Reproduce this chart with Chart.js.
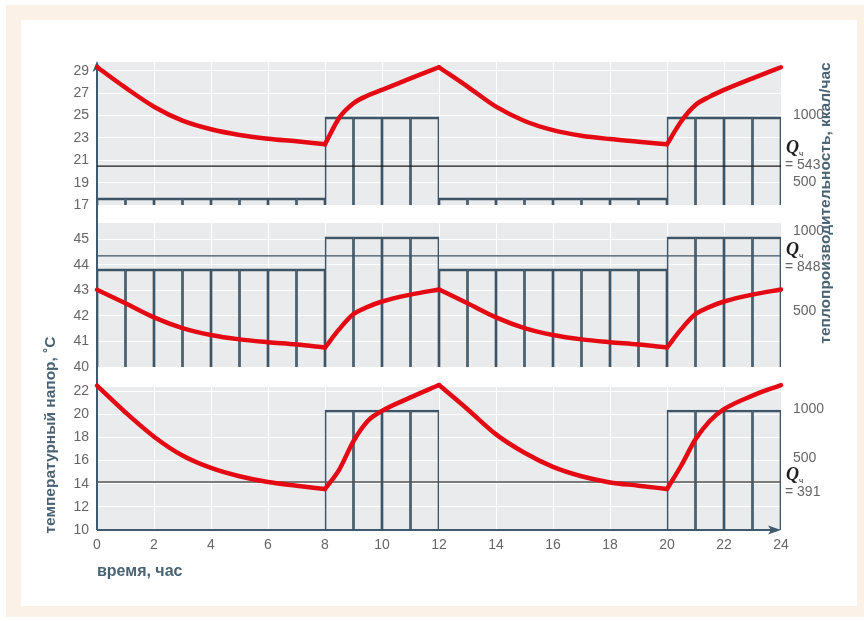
<!DOCTYPE html>
<html>
<head>
<meta charset="utf-8">
<script src="https://cdn.jsdelivr.net/npm/chart.js@4.4.1/dist/chart.umd.min.js"></script>
<style>
  html, body { margin: 0; padding: 0; background: #fff; }
  #frame { position: relative; width: 864px; height: 621px; overflow: hidden; }
  .beige { position: absolute; left: 6px; top: 5px; width: 858px; height: 612px; background: #fcf1e6; }
  .paper { position: absolute; left: 21px; top: 20px; width: 836px; height: 586px; background: #fff; }
  canvas { position: absolute; left: 21px; }
  .title { position: absolute; height: 20px; line-height: 20px; text-align: center; white-space: nowrap;
           font: bold 15.5px "Liberation Sans", Arial, sans-serif; color: #4a6373; transform: rotate(-90deg); }
</style>
</head>
<body>
<div id="frame">
  <div class="beige"></div>
  <div class="paper"></div>
  <canvas id="top" width="836" height="191" style="top:38px"></canvas>
  <canvas id="mid" width="836" height="192" style="top:199px"></canvas>
  <canvas id="bot" width="836" height="243" style="top:363px"></canvas>
  <div class="title" style="left:-59px; top:425px; width:220px;">температурный напор, ˚С</div>
  <div class="title" style="left:671px; top:193px; width:310px;">теплопроизводительность, ккал/час</div>
</div>
<script>
// hours at which the temperature curves were read
const hours = [0, 1, 2, 3, 4, 5, 6, 7, 8, 8.5, 9, 9.5, 10, 11, 12, 13, 14, 15, 16, 17, 18, 19, 20, 20.5, 21, 21.5, 22, 23, 24];
const corners = [0, 8, 12, 20, 24];

// temperature head, °C
const tempTop = [29.35, 27.5, 25.8, 24.55, 23.78, 23.27, 22.94, 22.7, 22.43, 24.8, 26.1, 26.8, 27.3, 28.34, 29.33,
                 27.6, 25.8, 24.52, 23.7, 23.2, 22.9, 22.67, 22.43, 24.5, 25.95, 26.7, 27.3, 28.34, 29.33];
const tempMid = [43.02, 42.49, 41.94, 41.52, 41.25, 41.08, 40.97, 40.88, 40.76, 41.48, 42.07, 42.35, 42.56, 42.83, 43.03,
                 42.49, 41.94, 41.52, 41.25, 41.08, 40.97, 40.88, 40.76, 41.48, 42.07, 42.35, 42.56, 42.83, 43.03];
const tempBot = [22.46, 20.15, 18.06, 16.43, 15.36, 14.64, 14.14, 13.83, 13.54, 15.22, 17.68, 19.42, 20.29, 21.45, 22.52,
                 20.43, 18.26, 16.67, 15.45, 14.64, 14.11, 13.83, 13.54, 15.57, 17.83, 19.42, 20.43, 21.6, 22.52];

// heat output per hour (0..23), kcal/h
const powerTop = [381, 381, 381, 381, 381, 381, 381, 381, 987, 987, 987, 987,
                  381, 381, 381, 381, 381, 381, 381, 381, 987, 987, 987, 987];
const powerMid = [767, 767, 767, 767, 767, 767, 767, 767, 967, 967, 967, 967,
                  767, 767, 767, 767, 767, 767, 767, 767, 967, 967, 967, 967];
const powerBot = [null, null, null, null, null, null, null, null, 993, 993, 993, 993,
                  null, null, null, null, null, null, null, null, 993, 993, 993, 993];

// average output line and its caption
const qLevels = [619, 848, 258];
const qTexts = ['543', '848', '391'];

// tick labels
const xTicks = [0, 2, 4, 6, 8, 10, 12, 14, 16, 18, 20, 22, 24];
const leftTicksTop = [17, 19, 21, 23, 25, 27, 29];
const leftTicksMid = [40, 41, 42, 43, 44, 45];
const leftTicksBot = [10, 12, 14, 16, 18, 20, 22];
const rightTicks = [500, 1000];

const RED = '#e50914';
const AXIS = '#3f5a6c';
const BAR = '#3d5566';
const TICK = '#666666';
const FONT = '"Liberation Sans", Arial, sans-serif';

const panelBg = {
  id: 'panelBg',
  beforeDraw(chart) {
    const { ctx, chartArea: a } = chart;
    ctx.save();
    ctx.fillStyle = '#eaebed';
    ctx.fillRect(a.left, a.top, a.right - a.left, a.bottom - a.top);
    ctx.restore();
  }
};

// the vertical axis runs through all three canvases, arrows on the first and last
const axisLines = {
  id: 'axisLines',
  beforeDatasetsDraw(chart, args, o) {
    const { ctx, chartArea: a, height } = chart;
    const x = a.left;
    ctx.save();
    ctx.strokeStyle = AXIS;
    ctx.fillStyle = AXIS;
    ctx.lineWidth = 2;
    const top = o.arrowUp ? a.top - 1 : 0;
    const bottom = o.arrowRight ? a.bottom : height;
    ctx.beginPath();
    ctx.moveTo(x, top + (o.arrowUp ? 6 : 0));
    ctx.lineTo(x, bottom);
    ctx.stroke();
    if (o.arrowUp) {
      ctx.beginPath();
      ctx.moveTo(x, top);
      ctx.lineTo(x + 4.5, top + 11);
      ctx.lineTo(x, top + 8);
      ctx.lineTo(x - 4.5, top + 11);
      ctx.closePath();
      ctx.fill();
    }
    if (o.arrowRight) {
      const y = a.bottom;
      ctx.beginPath();
      ctx.moveTo(x, y);
      ctx.lineTo(a.right - 6, y);
      ctx.stroke();
      ctx.beginPath();
      ctx.moveTo(a.right, y);
      ctx.lineTo(a.right - 13, y - 4.5);
      ctx.lineTo(a.right - 10, y);
      ctx.lineTo(a.right - 13, y + 4.5);
      ctx.closePath();
      ctx.fill();
    }
    ctx.restore();
  }
};

const qLabel = {
  id: 'qLabel',
  afterDraw(chart, args, o) {
    const { ctx, chartArea: a } = chart;
    const y = chart.scales.yR.getPixelForValue(o.value);
    const x = a.right + 5;
    ctx.save();
    ctx.textAlign = 'left';
    ctx.fillStyle = '#1e1e1e';
    ctx.textBaseline = 'alphabetic';
    ctx.font = 'bold italic 18px "Liberation Serif", serif';
    ctx.fillText('Q', x, y + o.qDy);
    ctx.font = '8px ' + FONT;
    ctx.fillText('ч', x + 13, y + o.qDy + 3);
    ctx.fillStyle = TICK;
    ctx.font = '14px ' + FONT;
    ctx.textBaseline = 'middle';
    ctx.fillText('= ' + o.text, x - 1, y + o.textDy);
    ctx.restore();
  }
};

const segments = (temps) => corners.slice(0, -1).map((c, i) =>
  hours.map((h, k) => ({ x: h, y: temps[k] })).filter(p => p.x >= c && p.x <= corners[i + 1]));

const makeChart = (id, p) => {
  const datasets = [
    ...segments(p.temps).map(seg => ({
      type: 'line', data: seg, yAxisID: 'y', borderColor: RED, borderWidth: 4.5, clip: false,
      borderCapStyle: 'round', pointRadius: 0, cubicInterpolationMode: 'monotone', order: 0
    })),
    {
      type: 'line', data: [{ x: 0, y: p.q }, { x: 24, y: p.q }], yAxisID: 'yR',
      borderColor: p.qColor, borderWidth: 1.3, pointRadius: 0, order: 1
    },
    {
      type: 'bar', yAxisID: 'yR', order: 2,
      data: p.power.map((v, h) => v == null ? null : { x: h + 0.5, y: [p.rMin, v] }).filter(Boolean),
      backgroundColor: 'rgba(0,0,0,0)', borderColor: BAR,
      borderWidth: { top: 2, left: 1, right: 1, bottom: 0 }, borderSkipped: 'bottom',
      barPercentage: 1, categoryPercentage: 1
    }
  ];

  new Chart(document.getElementById(id), {
    type: 'line',
    data: { datasets },
    options: {
      responsive: false,
      animation: false,
      events: [],
      layout: { padding: { left: 0, right: 0, top: 24, bottom: p.showX ? 0 : 24 } },
      plugins: {
        legend: { display: false },
        tooltip: { enabled: false },
        axisLines: { arrowUp: p.arrowUp, arrowRight: p.showX },
        qLabel: { value: p.q, text: p.qText, qDy: p.qDy, textDy: p.textDy }
      },
      scales: {
        x: {
          type: 'linear', min: 0, max: 24, offset: false,
          grid: { color: '#ffffff', lineWidth: 1, drawTicks: false, offset: false },
          border: { display: false },
          ticks: {
            display: p.showX, stepSize: 2, padding: 7, color: TICK,
            font: { family: FONT, size: 14 },
            callback: v => xTicks.includes(v) ? String(v) : ''
          },
          title: {
            display: p.showX, text: 'время, час', align: 'start', color: '#4a6373',
            font: { family: FONT, size: 16, weight: 'bold' },
            padding: { top: 0, bottom: 25 }
          },
          afterFit: s => { s.height = p.showX ? 76 : 0; }
        },
        y: {
          position: 'left', min: p.tMin, max: p.tMax,
          grid: { color: '#ffffff', lineWidth: 1, drawTicks: false },
          border: { display: false },
          ticks: {
            padding: 8, color: TICK, font: { family: FONT, size: 14 },
            callback: v => p.leftTicks.includes(v) ? String(v) : ''
          },
          afterBuildTicks: s => {
            const ticks = [];
            for (let v = p.tMin; v <= p.tMax + 1e-9; v += p.tStep) ticks.push({ value: Math.round(v * 100) / 100 });
            s.ticks = ticks;
          },
          afterFit: s => { s.width = 76; }
        },
        yR: {
          position: 'right', min: p.rMin, max: p.rMax,
          grid: { display: false },
          border: { display: false },
          ticks: { padding: 4, color: TICK, font: { family: FONT, size: 14 }, callback: v => String(v) },
          afterBuildTicks: s => { s.ticks = rightTicks.map(v => ({ value: v })); },
          afterFit: s => { s.width = 76; }
        }
      }
    },
    plugins: [panelBg, axisLines, qLabel]
  });
};

makeChart('top', {
  temps: tempTop, power: powerTop, q: qLevels[0], qText: qTexts[0], qColor: '#1a1a1a',
  tMin: 17, tMax: 29.8, tStep: 1, leftTicks: leftTicksTop, rMin: 328, rMax: 1398,
  arrowUp: true, showX: false, qDy: -13, textDy: -1
});
makeChart('mid', {
  temps: tempMid, power: powerMid, q: qLevels[1], qText: qTexts[1], qColor: '#3d5566',
  tMin: 40, tMax: 45.63, tStep: 0.5, leftTicks: leftTicksMid, rMin: 154, rMax: 1054,
  arrowUp: false, showX: false, qDy: -1, textDy: 11
});
makeChart('bot', {
  temps: tempBot, power: powerBot, q: qLevels[2], qText: qTexts[2], qColor: '#555555',
  tMin: 10, tMax: 22.35, tStep: 1, leftTicks: leftTicksBot, rMin: -232, rMax: 1228,
  arrowUp: false, showX: true, qDy: -2, textDy: 10
});
</script>
</body>
</html>
